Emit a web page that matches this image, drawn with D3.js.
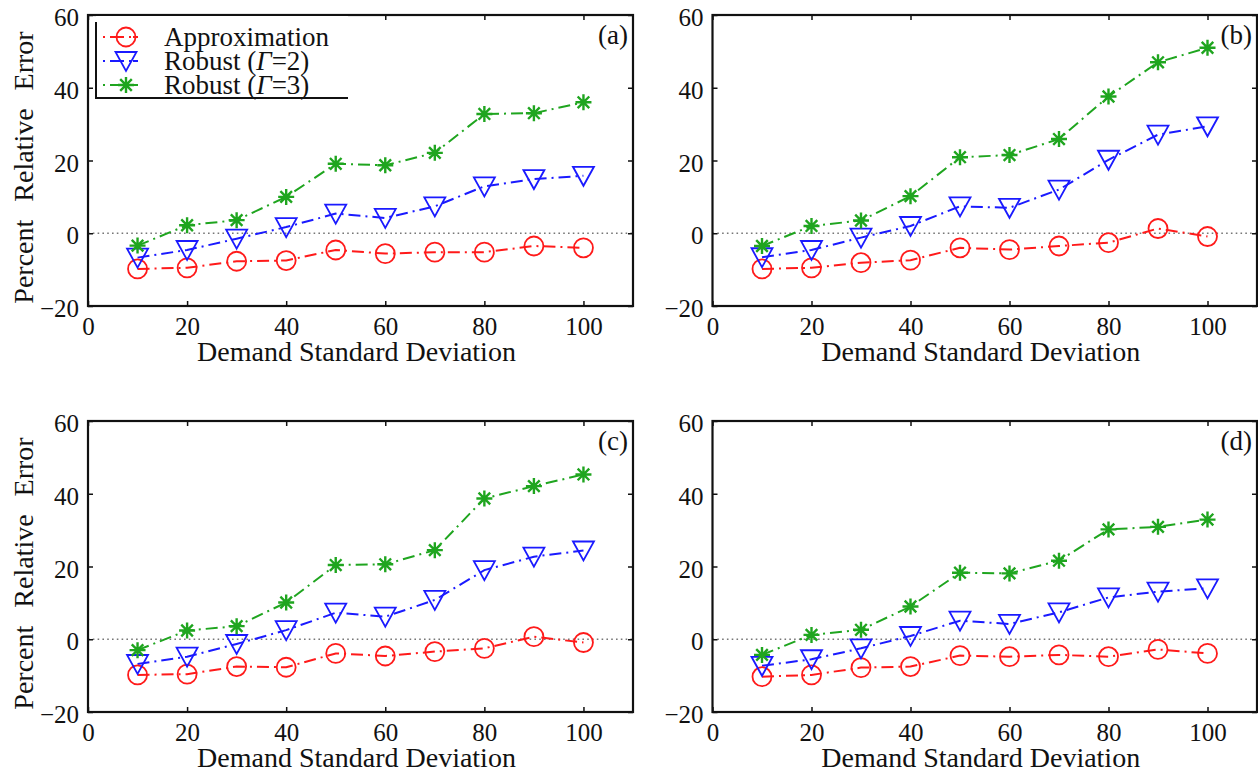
<!DOCTYPE html>
<html>
<head>
<meta charset="utf-8">
<script src="https://cdn.jsdelivr.net/npm/d3@7"></script>
<style>
  html, body { margin: 0; padding: 0; background: #fff; }
  svg { display: block; }
  svg text { font-family: "Liberation Serif", "Times New Roman", serif; fill: #111; }
</style>
</head>
<body>
<svg id="chart" width="1258" height="775" font-family="Liberation Serif"></svg>
<script>
// ---------------- data ----------------
const xValues = [10, 20, 30, 40, 50, 60, 70, 80, 90, 100];
const xTicks = [0, 20, 40, 60, 80, 100];
const yTicks = [-20, 0, 20, 40, 60];
const panelLabels = ["(a)", "(b)", "(c)", "(d)"];
const seriesNames = ["Approximation", "Robust (Γ=2)", "Robust (Γ=3)"];

const approxA  = [-9.8, -9.5, -7.7, -7.5, -4.6, -5.6, -5.2, -5.2, -3.5, -4.0];
const robust2A = [-6.7, -4.6, -1.5, 1.7, 5.4, 4.2, 7.4, 12.9, 14.9, 15.8];
const robust3A = [-3.4, 2.2, 3.6, 10.0, 19.1, 18.7, 22.1, 32.8, 33.0, 36.0];

const approxB  = [-9.8, -9.5, -8.1, -7.4, -4.0, -4.5, -3.5, -2.6, 1.3, -0.9];
const robust2B = [-6.6, -4.6, -1.2, 2.0, 7.4, 7.0, 12.0, 20.2, 27.1, 29.4];
const robust3B = [-3.5, 2.0, 3.5, 10.2, 20.9, 21.5, 25.9, 37.6, 47.0, 51.0];

const approxC  = [-9.8, -9.6, -7.5, -7.7, -3.9, -4.6, -3.4, -2.5, 0.7, -0.9];
const robust2C = [-6.8, -4.8, -1.3, 2.5, 7.3, 6.2, 10.8, 19.0, 22.7, 24.4];
const robust3C = [-3.0, 2.4, 3.6, 10.1, 20.4, 20.6, 24.5, 38.7, 42.1, 45.3];

const approxD  = [-10.3, -9.8, -7.8, -7.5, -4.5, -4.8, -4.3, -4.8, -2.8, -3.9];
const robust2D = [-7.3, -5.5, -2.5, 0.9, 5.1, 4.2, 7.4, 11.5, 13.1, 14.0];
const robust3D = [-4.3, 1.2, 2.6, 9.0, 18.3, 18.1, 21.6, 30.2, 30.9, 32.9];

// ---------------- layout / style ----------------
const panels = [
  { label: panelLabels[0], series: [approxA, robust2A, robust3A], left: 88,  right: 633,  top: 15,  bottom: 306, ylabel: true,  legend: true },
  { label: panelLabels[1], series: [approxB, robust2B, robust3B], left: 712.5, right: 1257, top: 15,  bottom: 306, ylabel: false, legend: false },
  { label: panelLabels[2], series: [approxC, robust2C, robust3C], left: 88,  right: 633,  top: 421, bottom: 712, ylabel: true,  legend: false },
  { label: panelLabels[3], series: [approxD, robust2D, robust3D], left: 712.5, right: 1257, top: 421, bottom: 712, ylabel: false, legend: false }
];
const colors = ["#ff1a1a", "#1a1aff", "#1fa51f"];
const markers = ["circle", "triangle", "star"];
const dashDot = "12,5,2,5";
const FONT = "Liberation Serif";

const svg = d3.select("#chart");

function drawMarker(g, type, color, cx, cy) {
  if (type === "circle") {
    g.append("circle").attr("cx", cx).attr("cy", cy).attr("r", 9.5)
      .attr("fill", "none").attr("stroke", color).attr("stroke-width", 1.8);
  } else if (type === "triangle") {
    g.append("path")
      .attr("d", `M${cx - 10.5},${cy - 9} L${cx + 10.5},${cy - 9} L${cx},${cy + 10} Z`)
      .attr("fill", "none").attr("stroke", color).attr("stroke-width", 1.8)
      .attr("stroke-linejoin", "miter");
  } else {
    const s = 8, d = 5.8;
    const p = `M${cx - s},${cy} L${cx + s},${cy} M${cx},${cy - s} L${cx},${cy + s} ` +
              `M${cx - d},${cy - d} L${cx + d},${cy + d} M${cx - d},${cy + d} L${cx + d},${cy - d}`;
    g.append("path").attr("d", p).attr("fill", "none").attr("stroke", color).attr("stroke-width", 2.4);
  }
}

panels.forEach(p => {
  const x = d3.scaleLinear().domain([0, 110]).range([p.left, p.right]);
  const y = d3.scaleLinear().domain([-20, 60]).range([p.bottom, p.top]);
  const g = svg.append("g");

  // zero reference dotted line
  g.append("line")
    .attr("x1", p.left).attr("x2", p.right)
    .attr("y1", y(0)).attr("y2", y(0))
    .attr("stroke", "#777").attr("stroke-width", 1.6).attr("stroke-dasharray", "1.6,3.2");

  const line = d3.line().x((d, i) => x(xValues[i])).y(d => y(d));

  p.series.forEach((vals, si) => {
    g.append("path").datum(vals)
      .attr("d", line)
      .attr("fill", "none")
      .attr("stroke", colors[si])
      .attr("stroke-width", 2)
      .attr("stroke-dasharray", dashDot);
  });
  p.series.forEach((vals, si) => {
    vals.forEach((v, i) => drawMarker(g, markers[si], colors[si], x(xValues[i]), y(v)));
  });

  // axes (bottom/left with inward ticks), and mirrored top/right
  const tickLen = 5;
  const xAxisB = d3.axisBottom(x).tickValues(xTicks).tickSizeInner(-tickLen).tickSizeOuter(0).tickPadding(11);
  const xAxisT = d3.axisTop(x).tickValues(xTicks).tickSizeInner(-tickLen).tickSizeOuter(0).tickFormat("");
  const yAxisL = d3.axisLeft(y).tickValues(yTicks).tickSizeInner(-tickLen).tickSizeOuter(0).tickPadding(9)
    .tickFormat(d => d < 0 ? "\u2212" + Math.abs(d) : String(d));
  const yAxisR = d3.axisRight(y).tickValues(yTicks).tickSizeInner(-tickLen).tickSizeOuter(0).tickFormat("");

  const axB = g.append("g").attr("transform", `translate(0,${p.bottom})`).call(xAxisB);
  const axT = g.append("g").attr("transform", `translate(0,${p.top})`).call(xAxisT);
  const axL = g.append("g").attr("transform", `translate(${p.left},0)`).call(yAxisL);
  const axR = g.append("g").attr("transform", `translate(${p.right},0)`).call(yAxisR);
  [axB, axT, axL, axR].forEach(a => {
    a.attr("font-family", FONT);
    a.select(".domain").remove();
    a.selectAll(".tick line").attr("stroke", "#111").attr("stroke-width", 1.5);
  });
  axB.selectAll(".tick text").attr("font-size", 25).attr("font-family", FONT).attr("fill", "#111");
  axL.selectAll(".tick text").attr("font-size", 25).attr("font-family", FONT).attr("fill", "#111").attr("dy", "0.42em");

  // frame
  g.append("rect")
    .attr("x", p.left).attr("y", p.top)
    .attr("width", p.right - p.left).attr("height", p.bottom - p.top)
    .attr("fill", "none").attr("stroke", "#111").attr("stroke-width", 2.2);

  // panel label
  g.append("text").attr("x", p.right - 5).attr("y", p.top + 29)
    .attr("text-anchor", "end").attr("font-size", 27).attr("font-family", FONT).text(p.label);

  // x axis title
  g.append("text").attr("x", (p.left + p.right) / 2 - 4).attr("y", p.bottom + 55)
    .attr("text-anchor", "middle").attr("font-size", 28).attr("font-family", FONT)
    .attr("fill", p.legend ? "#111" : "#333")
    .text("Demand Standard Deviation");

  // y axis title
  if (p.ylabel) {
    g.append("text")
      .attr("transform", `translate(33,${(p.top + p.bottom) / 2 + 7}) rotate(-90)`)
      .attr("text-anchor", "middle").attr("font-size", 28).attr("font-family", FONT)
      .attr("word-spacing", 11)
      .text("Percent Relative Error");
  }

  // legend
  if (p.legend) {
    const lg = svg.append("g").attr("font-family", FONT);
    lg.append("rect").attr("x", 96).attr("y", p.top + 1).attr("width", 252).attr("height", 82)
      .attr("fill", "#fff");
    lg.append("path").attr("d", `M96,${p.top + 7} L96,98 L348,98`)
      .attr("fill", "none").attr("stroke", "#111").attr("stroke-width", 2);
    const rows = [37, 61, 85];
    seriesNames.forEach((name, i) => {
      lg.append("line").attr("x1", 103).attr("x2", 150).attr("y1", rows[i]).attr("y2", rows[i])
        .attr("stroke", colors[i]).attr("stroke-width", 2).attr("stroke-dasharray", "2,5,14,5,2");
      drawMarker(lg, markers[i], colors[i], 126, rows[i]);
      const t = lg.append("text").attr("x", 164).attr("y", rows[i] + 9).attr("font-size", 27);
      const m = name.match(/^(.*\()Γ(=\d\))$/);
      if (m) {
        t.append("tspan").text(m[1]);
        t.append("tspan").attr("font-style", "italic").text("Γ");
        t.append("tspan").text(m[2]);
      } else {
        t.text(name);
      }
    });
  }
});
</script>
</body>
</html>
